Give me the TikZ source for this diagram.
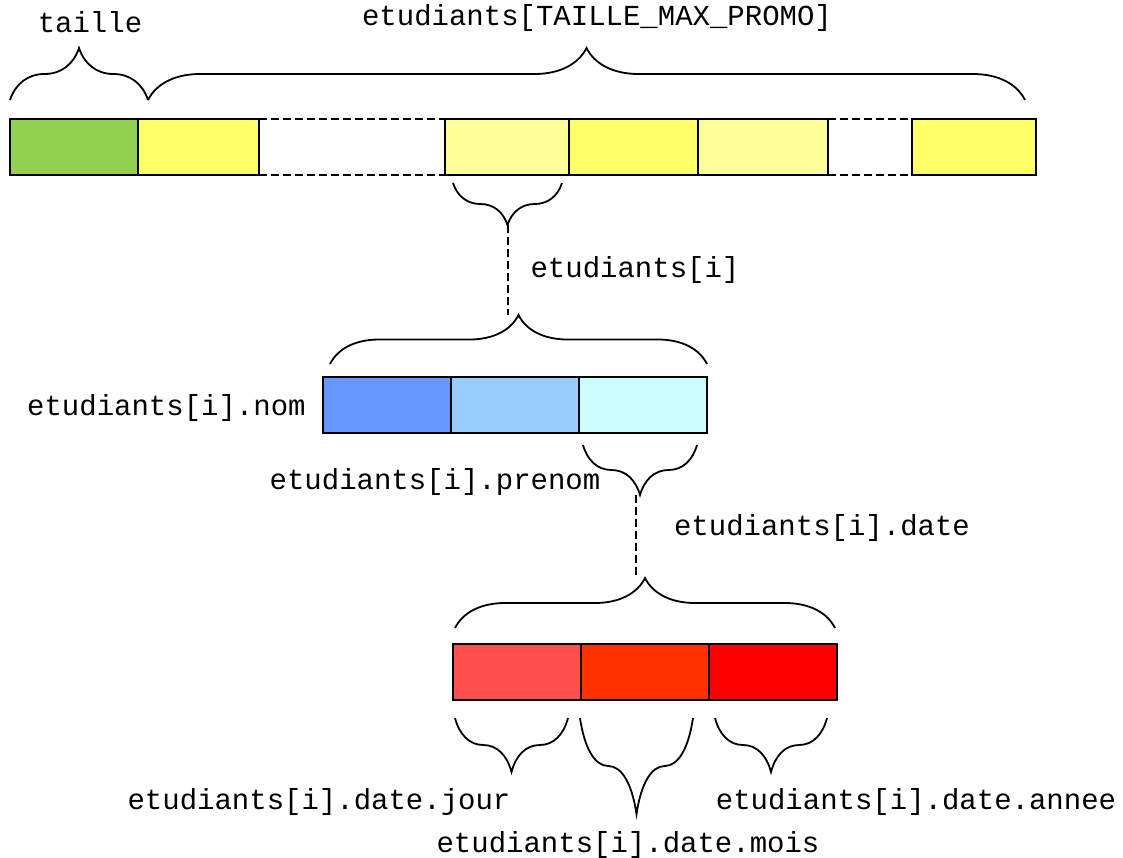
\documentclass[tikz,border=0pt]{standalone}
\usepackage{fontspec}
\setmonofont{Liberation Mono}
\usetikzlibrary{positioning,decorations.pathreplacing}
\definecolor{vert}{HTML}{92D050}
\definecolor{jaune}{HTML}{FFFF66}
\definecolor{jaunep}{HTML}{FFFF99}
\definecolor{bleua}{HTML}{6699FF}
\definecolor{bleub}{HTML}{99CCFF}
\definecolor{bleuc}{HTML}{CCFFFF}
\definecolor{rougea}{HTML}{FF5050}
\definecolor{rougeb}{HTML}{FF3300}
\definecolor{rougec}{HTML}{FF0000}
\begin{document}
\begin{tikzpicture}[x=0.5pt,y=-0.5pt,
	case/.style={draw,line width=1pt,minimum height=28pt,minimum width=64pt,inner sep=0pt,outer sep=0pt},
	txt/.style={font=\ttfamily\fontsize{14.5}{17}\selectfont,inner sep=0pt},
	acc/.style={decorate,decoration={brace,amplitude=#1},line width=0.9pt},
	pointille/.style={dashed,line width=0.6pt,dash pattern=on 4pt off 2pt}]
	\useasboundingbox (0,0) rectangle (1123,857);
	\node[case,fill=vert] (t0) at (74,147) {};
	\node[case,fill=jaune,minimum width=60.5pt,right=0pt of t0] (t1) {};
	\node[case,fill=jaunep,minimum width=62pt] (t2) at (507,147) {};
	\node[case,fill=jaune,minimum width=64.5pt,right=0pt of t2] (t3) {};
	\node[case,fill=jaunep,minimum width=65pt,right=0pt of t3] (t4) {};
	\node[case,fill=jaune,minimum width=62pt] (t5) at (974,147) {};
	\draw[pointille] (t1.north east) -- (t2.north west);
	\draw[pointille] (t1.south east) -- (t2.south west);
	\draw[pointille] (t4.north east) -- (t5.north west);
	\draw[pointille] (t4.south east) -- (t5.south west);
	\draw[acc=26pt] (10,100) -- (148,100);
	\draw[acc=26pt] (148,100) -- (1025,100);
	\node[txt] (taille) at (90,22) {taille};
	\node[txt] (tab) at (597,18) {etudiants[TAILLE\_MAX\_PROMO]};
	\draw[acc=21pt] (562,183) -- (453,183);
	\coordinate (P1) at (508,225);
	\coordinate (P2) at (508,315);
	\draw[pointille] (P1) -- (P2);
	\node[txt] (ei) at (635,270) {etudiants[i]};
	\draw[acc=24.5pt] (330,364) -- (707,364);
	\node[case,fill=bleua] (m1) at (387,405) {};
	\node[case,fill=bleub,right=0pt of m1] (m2) {};
	\node[case,fill=bleuc,right=0pt of m2] (m3) {};
	\node[txt,anchor=east] (nom) at (306,408) {etudiants[i].nom};
	\node[txt] (prenom) at (435,482) {etudiants[i].prenom};
	\draw[acc=25pt] (697,445) -- (583,445);
	\coordinate (Q1) at (636,495);
	\coordinate (Q2) at (636,578);
	\draw[pointille] (Q1) -- (Q2);
	\node[txt] (date) at (822,528) {etudiants[i].date};
	\draw[acc=25pt] (455,628) -- (835,628);
	\node[case,fill=rougea] (b1) at (517,672) {};
	\node[case,fill=rougeb,right=0pt of b1] (b2) {};
	\node[case,fill=rougec,right=0pt of b2] (b3) {};
	\draw[acc=27pt] (568,718) -- (455,718);
	\draw[acc=48pt] (693,718) -- (580,718);
	\draw[acc=27pt] (827,718) -- (715,718);
	\node[txt] (jour) at (319,802) {etudiants[i].date.jour};
	\node[txt] (mois) at (628,845) {etudiants[i].date.mois};
	\node[txt] (annee) at (916,802) {etudiants[i].date.annee};
\end{tikzpicture}
\end{document}
